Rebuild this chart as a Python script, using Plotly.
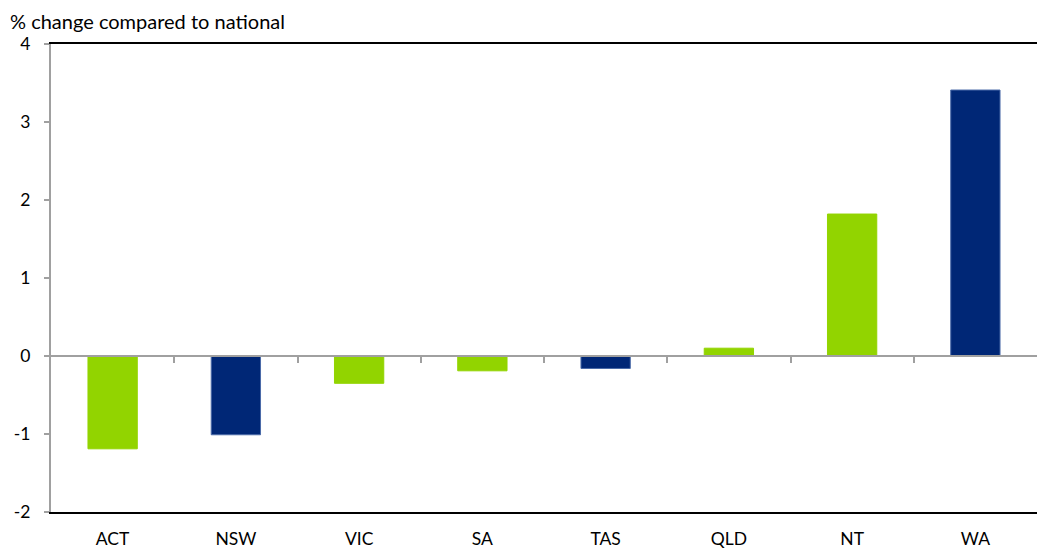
import plotly.graph_objects as go

categories = ["ACT", "NSW", "VIC", "SA", "TAS", "QLD", "NT", "WA"]
values = [-1.19, -1.01, -0.35, -0.19, -0.16, 0.10, 1.82, 3.41]
bar_colors = ["#92D400", "#002776", "#92D400", "#92D400", "#002776", "#92D400", "#92D400", "#002776"]
bar_edges = ["#92D400", "#4A6AA8", "#92D400", "#92D400", "#4A6AA8", "#92D400", "#92D400", "#4A6AA8"]
y_title = "% change compared to national"
y_ticks = [-2, -1, 0, 1, 2, 3, 4]
y_tick_text = ["-2", "-1", "0", "1", "2", "3", "4"]

FONT = "Lato"
n = len(categories)

fig = go.Figure()
fig.add_trace(go.Bar(
    x=list(range(n)), y=values, width=0.4,
    marker=dict(color=bar_colors, line=dict(color=bar_edges, width=1)),
    showlegend=False, hoverinfo="x+y",
))
# invisible trace to carry the zero-line axis
fig.add_trace(go.Scatter(x=[-0.5, n - 0.5], y=[0, 0], xaxis="x2", mode="lines",
                         line=dict(width=0), showlegend=False, hoverinfo="skip"))

fig.update_layout(
    width=1037, height=549,
    margin=dict(l=51, r=0, t=44, b=37, autoexpand=False),
    paper_bgcolor="white", plot_bgcolor="white",
    font=dict(family=FONT, size=17.5, color="#000000"),
    xaxis=dict(
        range=[-0.5, n - 0.5], tickmode="array", tickvals=list(range(n)), ticktext=categories,
        showline=True, linecolor="#000000", linewidth=2, mirror=True, automargin=False,
        ticks="", showgrid=False, zeroline=False, ticklabelstandoff=10,
    ),
    xaxis2=dict(
        overlaying="x", anchor="free", position=1/3, range=[-0.5, n - 0.5],
        tickmode="array", tickvals=[i + 0.5 for i in range(n - 1)], automargin=False,
        showticklabels=False, ticks="outside", ticklen=6, tickwidth=2, tickcolor="#A0A0A0",
        showline=True, linecolor="#A0A0A0", linewidth=2, showgrid=False, zeroline=False,
    ),
    yaxis=dict(
        range=[-2, 4], tickmode="array", tickvals=y_ticks, ticktext=y_tick_text, automargin=False,
        showline=True, linecolor="#A0A0A0", linewidth=2,
        ticks="outside", ticklen=5, tickwidth=2, tickcolor="#A0A0A0",
        showgrid=False, zeroline=False, ticklabelstandoff=10,
    ),
    annotations=[dict(text=y_title, xref="paper", yref="paper", x=0, y=1, xshift=-43, yshift=9,
                      xanchor="left", yanchor="bottom", showarrow=False,
                      font=dict(family=FONT, size=20))],
    bargap=0.6,
)

fig.write_html("out.html", config={"displayModeBar": False},
               post_script="document.body.style.margin='0';document.body.style.overflow='hidden';")
